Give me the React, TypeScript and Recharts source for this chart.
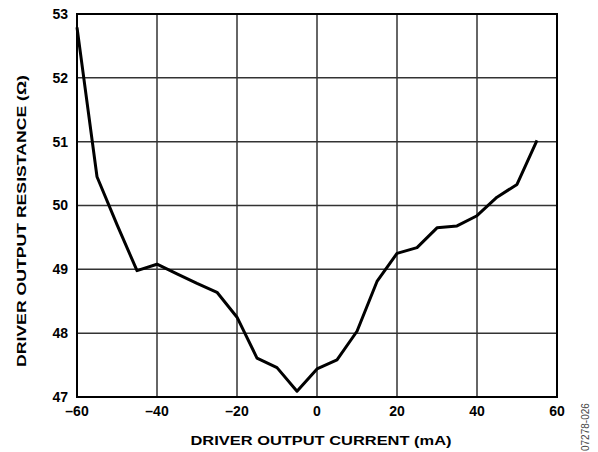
import React from "react";
import { LineChart, Line, XAxis, YAxis, CartesianGrid, ReferenceArea } from "recharts";

const currents = [-60, -55, -50, -45, -40, -35, -30, -25, -20, -15, -10, -5, 0, 5, 10, 15, 20, 25, 30, 35, 40, 45, 50, 55];
const resistances = [52.79, 50.45, 49.7, 48.98, 49.08, 48.93, 48.78, 48.64, 48.25, 47.61, 47.46, 47.09, 47.44, 47.58, 48.03, 48.81, 49.25, 49.34, 49.65, 49.68, 49.84, 50.13, 50.33, 51.02];
const xTicks = [-60, -40, -20, 0, 20, 40, 60];
const yTicks = [47, 48, 49, 50, 51, 52, 53];

const data = currents.map((c, i) => ({ x: c, y: resistances[i] }));

const FONT = "'Liberation Sans', Arial, Helvetica, sans-serif";
const fmt = (v: number) => (v < 0 ? "\u2013" + Math.abs(v) : String(v));

const tickStyle = { fontFamily: FONT, fontSize: 14, fontWeight: 700, fill: "#000" };

export default function App() {
  return (
    <div style={{ position: "absolute", left: 0, top: 0, width: 598, height: 452, background: "#fff" }}>
      <LineChart width={598} height={452} data={data} margin={{ top: 14, right: 41, bottom: 0, left: 0 }}>
        <CartesianGrid stroke="#333" strokeWidth={1.5} vertical horizontal />
        <XAxis
          dataKey="x"
          type="number"
          domain={[-60, 60]}
          ticks={xTicks}
          tickFormatter={fmt}
          height={55}
          tickSize={0}
          tickMargin={9}
          axisLine={false}
          tick={tickStyle}
          interval={0}
          label={{
            content: () => (
              <g>
                <text
                  x={321}
                  y={445}
                  textAnchor="middle"
                  textLength={261}
                  lengthAdjust="spacingAndGlyphs"
                  style={{ fontFamily: FONT, fontSize: 13, fontWeight: 700, fill: "#000" }}
                >
                  DRIVER OUTPUT CURRENT (mA)
                </text>
                <text
                  x={589}
                  y={451}
                  transform="rotate(-90 589 451)"
                  textAnchor="start"
                  style={{ fontFamily: FONT, fontSize: 10, fill: "#444" }}
                >
                  07278-026
                </text>
              </g>
            ),
          }}
        />
        <YAxis
          dataKey="y"
          type="number"
          domain={[47, 53]}
          ticks={yTicks}
          width={77}
          tickSize={0}
          tickMargin={9}
          axisLine={false}
          tick={tickStyle}
          interval={0}
          label={{
            content: () => (
              <text
                x={26}
                y={221}
                transform="rotate(-90 26 221)"
                textAnchor="middle"
                textLength={292}
                lengthAdjust="spacingAndGlyphs"
                style={{ fontFamily: FONT, fontSize: 13, fontWeight: 700, fill: "#000" }}
              >
                DRIVER OUTPUT RESISTANCE (Ω)
              </text>
            ),
          }}
        />
        <ReferenceArea x1={-60} x2={60} y1={47} y2={53} fill="none" stroke="#000" strokeWidth={2} ifOverflow="visible" />
        <Line
          type="linear"
          dataKey="y"
          stroke="#000"
          strokeWidth={3}
          dot={false}
          activeDot={false}
          isAnimationActive={false}
          strokeLinejoin="round"
        />
      </LineChart>
    </div>
  );
}
